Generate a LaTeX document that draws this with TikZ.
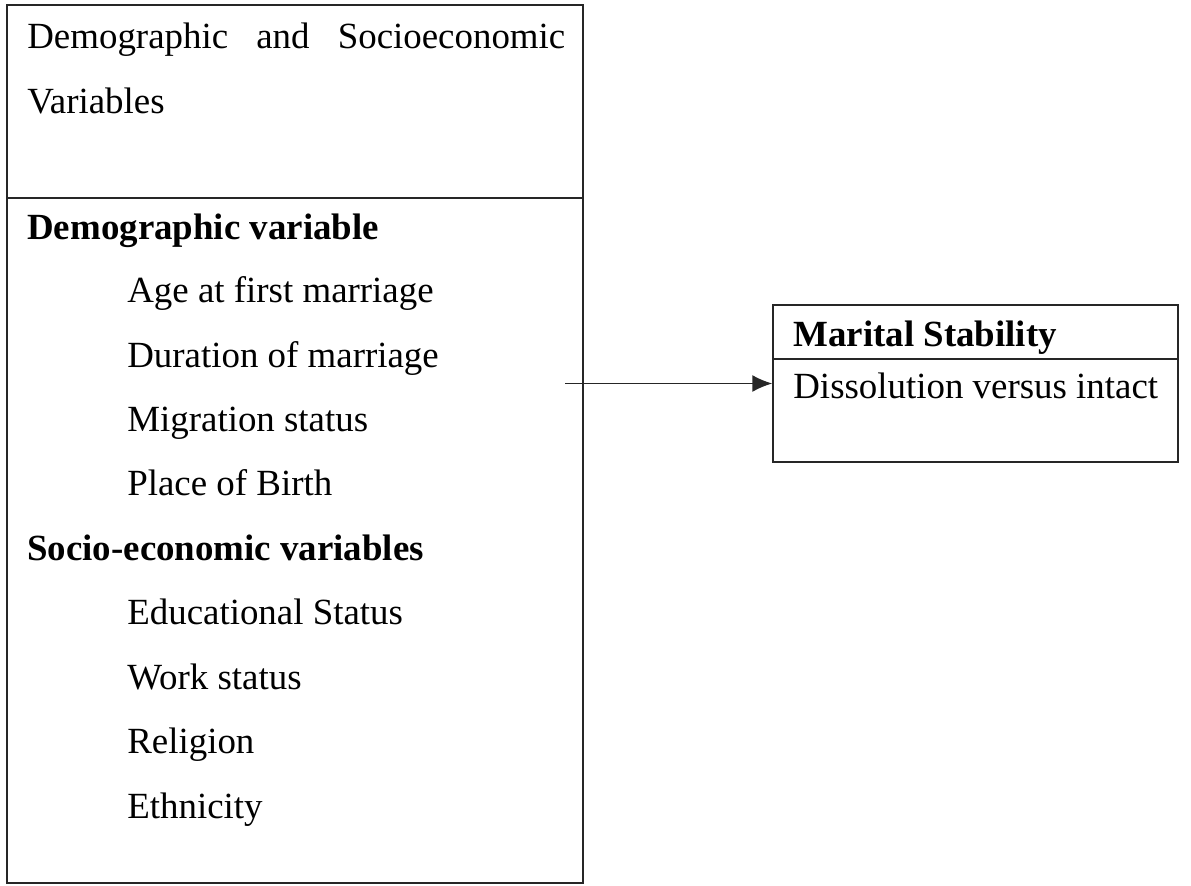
\documentclass[tikz,border=0pt]{standalone}
\usepackage{fontspec}
\setmainfont{Liberation Serif}
\usetikzlibrary{positioning,arrows.meta}

\begin{document}
\begin{tikzpicture}[x=0.02cm, y=-0.02cm,
		box/.style={draw=black!85, line width=0.9pt, inner sep=0pt},
		rule/.style={draw=black!85, line width=0.9pt},
		txt/.style={anchor=base west, inner sep=0pt, font=\fontsize{21}{25}\selectfont},
		hdr/.style={txt, font=\fontsize{21}{25}\selectfont\bfseries},
		item/.style={txt, xshift=2cm}]
		\useasboundingbox (0,0) rectangle (1191,886);
		
		\node[box, minimum width=11.52cm, minimum height=17.56cm] (vars) at (295,444) {};
		\node[box, minimum width=8.1cm, minimum height=3.14cm] (outcome) at (975.5,383.5) {};
		\coordinate (varsdiv) at (0,198);
		\coordinate (outdiv) at (0,359);
		\draw[rule] (vars.west |- varsdiv) -- (vars.east |- varsdiv);
		\draw[rule] (outcome.west |- outdiv) -- (outcome.east |- outdiv);
		
		\node[txt] (title1) at (27,48) {\makebox[10.76cm][s]{Demographic and Socioeconomic}};
		\node[txt] (title2) at (27,113) {Variables};
		
		\node[hdr] (demo) at (27,239) {Demographic variable};
		\node[item] (age) at (27,302.5) {Age at first marriage};
		\node[item] (dur) at (27,367) {Duration of marriage};
		\node[item] (mig) at (27,431.5) {Migration status};
		\node[item] (birth) at (27,495.5) {Place of Birth};
		\node[hdr] (socio) at (27,560) {Socio-economic variables};
		\node[item] (edu) at (27,624.5) {Educational Status};
		\node[item] (work) at (27,689) {Work status};
		\node[item] (rel) at (27,753.5) {Religion};
		\node[item] (eth) at (27,818) {Ethnicity};
		
		\node[hdr] (stab) at (793,346) {Marital Stability};
		\node[txt] (diss) at (793,398) {Dissolution versus intact};
		
		\coordinate (from) at (565,383.5);
		\draw[rule, -{Latex[length=0.4cm, width=0.34cm]}] (from) -- (outcome.west);
	\end{tikzpicture}
\end{document}
